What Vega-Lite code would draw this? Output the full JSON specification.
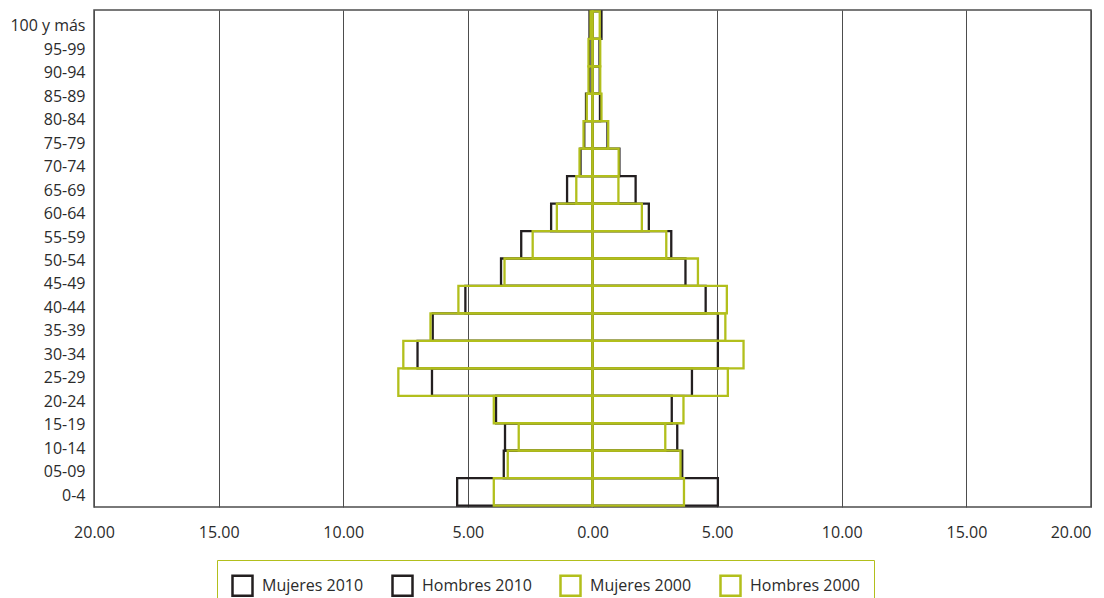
{
  "$schema": "https://vega.github.io/schema/vega-lite/v6.json",
  "autosize": {"type": "none"},
  "width": 997,
  "height": 497,
  "padding": {"left": 94, "top": 10, "right": 13, "bottom": 91},
  "background": "white",
  "config": {
    "font": "Open Sans",
    "view": {"stroke": "#4d4d4d", "strokeWidth": 1.5},
    "axis": {"labelFont": "Open Sans", "labelFontSize": 16, "labelColor": "#2b2b2b"},
    "legend": {"labelFont": "Open Sans", "labelFontSize": 16, "labelColor": "#2b2b2b"}
  },
  "datasets": {
    "edades": [
      {"edad": "100 y más"}, {"edad": "95-99"}, {"edad": "90-94"}, {"edad": "85-89"},
      {"edad": "80-84"}, {"edad": "75-79"}, {"edad": "70-74"}, {"edad": "65-69"},
      {"edad": "60-64"}, {"edad": "55-59"}, {"edad": "50-54"}, {"edad": "45-49"},
      {"edad": "40-44"}, {"edad": "35-39"}, {"edad": "30-34"}, {"edad": "25-29"},
      {"edad": "20-24"}, {"edad": "15-19"}, {"edad": "10-14"}, {"edad": "05-09"},
      {"edad": "0-4"}
    ],
    "poblacion": [
      {"grupo": "85 y más", "serie": "Hombres 2010", "valor": -0.12},
      {"grupo": "80-84", "serie": "Hombres 2010", "valor": -0.12},
      {"grupo": "75-79", "serie": "Hombres 2010", "valor": -0.12},
      {"grupo": "70-74", "serie": "Hombres 2010", "valor": -0.26},
      {"grupo": "65-69", "serie": "Hombres 2010", "valor": -0.33},
      {"grupo": "60-64", "serie": "Hombres 2010", "valor": -0.48},
      {"grupo": "55-59", "serie": "Hombres 2010", "valor": -1.02},
      {"grupo": "50-54", "serie": "Hombres 2010", "valor": -1.66},
      {"grupo": "45-49", "serie": "Hombres 2010", "valor": -2.86},
      {"grupo": "40-44", "serie": "Hombres 2010", "valor": -3.67},
      {"grupo": "35-39", "serie": "Hombres 2010", "valor": -5.10},
      {"grupo": "30-34", "serie": "Hombres 2010", "valor": -6.41},
      {"grupo": "25-29", "serie": "Hombres 2010", "valor": -7.02},
      {"grupo": "20-24", "serie": "Hombres 2010", "valor": -6.44},
      {"grupo": "15-19", "serie": "Hombres 2010", "valor": -3.87},
      {"grupo": "10-14", "serie": "Hombres 2010", "valor": -3.51},
      {"grupo": "05-09", "serie": "Hombres 2010", "valor": -3.56},
      {"grupo": "0-4", "serie": "Hombres 2010", "valor": -5.43},
      {"grupo": "85 y más", "serie": "Mujeres 2010", "valor": 0.36},
      {"grupo": "80-84", "serie": "Mujeres 2010", "valor": 0.28},
      {"grupo": "75-79", "serie": "Mujeres 2010", "valor": 0.29},
      {"grupo": "70-74", "serie": "Mujeres 2010", "valor": 0.30},
      {"grupo": "65-69", "serie": "Mujeres 2010", "valor": 0.60},
      {"grupo": "60-64", "serie": "Mujeres 2010", "valor": 1.08},
      {"grupo": "55-59", "serie": "Mujeres 2010", "valor": 1.73},
      {"grupo": "50-54", "serie": "Mujeres 2010", "valor": 2.26},
      {"grupo": "45-49", "serie": "Mujeres 2010", "valor": 3.16},
      {"grupo": "40-44", "serie": "Mujeres 2010", "valor": 3.73},
      {"grupo": "35-39", "serie": "Mujeres 2010", "valor": 4.54},
      {"grupo": "30-34", "serie": "Mujeres 2010", "valor": 5.03},
      {"grupo": "25-29", "serie": "Mujeres 2010", "valor": 5.03},
      {"grupo": "20-24", "serie": "Mujeres 2010", "valor": 3.99},
      {"grupo": "15-19", "serie": "Mujeres 2010", "valor": 3.18},
      {"grupo": "10-14", "serie": "Mujeres 2010", "valor": 3.40},
      {"grupo": "05-09", "serie": "Mujeres 2010", "valor": 3.60},
      {"grupo": "0-4", "serie": "Mujeres 2010", "valor": 5.03},
      {"grupo": "85 y más", "serie": "Hombres 2000", "valor": -0.08},
      {"grupo": "80-84", "serie": "Hombres 2000", "valor": -0.16},
      {"grupo": "75-79", "serie": "Hombres 2000", "valor": -0.16},
      {"grupo": "70-74", "serie": "Hombres 2000", "valor": -0.23},
      {"grupo": "65-69", "serie": "Hombres 2000", "valor": -0.36},
      {"grupo": "60-64", "serie": "Hombres 2000", "valor": -0.52},
      {"grupo": "55-59", "serie": "Hombres 2000", "valor": -0.65},
      {"grupo": "50-54", "serie": "Hombres 2000", "valor": -1.43},
      {"grupo": "45-49", "serie": "Hombres 2000", "valor": -2.40},
      {"grupo": "40-44", "serie": "Hombres 2000", "valor": -3.53},
      {"grupo": "35-39", "serie": "Hombres 2000", "valor": -5.38},
      {"grupo": "30-34", "serie": "Hombres 2000", "valor": -6.50},
      {"grupo": "25-29", "serie": "Hombres 2000", "valor": -7.59},
      {"grupo": "20-24", "serie": "Hombres 2000", "valor": -7.79},
      {"grupo": "15-19", "serie": "Hombres 2000", "valor": -3.96},
      {"grupo": "10-14", "serie": "Hombres 2000", "valor": -2.96},
      {"grupo": "05-09", "serie": "Hombres 2000", "valor": -3.40},
      {"grupo": "0-4", "serie": "Hombres 2000", "valor": -3.96},
      {"grupo": "85 y más", "serie": "Mujeres 2000", "valor": 0.29},
      {"grupo": "80-84", "serie": "Mujeres 2000", "valor": 0.31},
      {"grupo": "75-79", "serie": "Mujeres 2000", "valor": 0.31},
      {"grupo": "70-74", "serie": "Mujeres 2000", "valor": 0.36},
      {"grupo": "65-69", "serie": "Mujeres 2000", "valor": 0.63},
      {"grupo": "60-64", "serie": "Mujeres 2000", "valor": 1.05},
      {"grupo": "55-59", "serie": "Mujeres 2000", "valor": 1.04},
      {"grupo": "50-54", "serie": "Mujeres 2000", "valor": 1.98},
      {"grupo": "45-49", "serie": "Mujeres 2000", "valor": 2.96},
      {"grupo": "40-44", "serie": "Mujeres 2000", "valor": 4.23},
      {"grupo": "35-39", "serie": "Mujeres 2000", "valor": 5.39},
      {"grupo": "30-34", "serie": "Mujeres 2000", "valor": 5.33},
      {"grupo": "25-29", "serie": "Mujeres 2000", "valor": 6.06},
      {"grupo": "20-24", "serie": "Mujeres 2000", "valor": 5.43},
      {"grupo": "15-19", "serie": "Mujeres 2000", "valor": 3.65},
      {"grupo": "10-14", "serie": "Mujeres 2000", "valor": 2.92},
      {"grupo": "05-09", "serie": "Mujeres 2000", "valor": 3.53},
      {"grupo": "0-4", "serie": "Mujeres 2000", "valor": 3.67}
    ]
  },
  "layer": [
    {
      "data": {"name": "edades"},
      "mark": {"type": "point", "opacity": 0},
      "encoding": {
        "y": {
          "field": "edad",
          "type": "nominal",
          "sort": null,
          "title": null,
          "scale": {"type": "band", "paddingInner": 0, "paddingOuter": 0.09},
          "axis": {"orient": "left", "domain": false, "ticks": false, "labelPadding": 9, "labelOffset": 2.5, "grid": false}
        }
      }
    },
    {
      "data": {"name": "poblacion"},
      "mark": {"type": "bar", "filled": false, "strokeWidth": 2.3},
      "encoding": {
        "y": {
          "field": "grupo",
          "type": "nominal",
          "axis": null,
          "scale": {
            "domain": ["85 y más", "80-84", "75-79", "70-74", "65-69", "60-64", "55-59", "50-54", "45-49", "40-44", "35-39", "30-34", "25-29", "20-24", "15-19", "10-14", "05-09", "0-4"],
            "paddingInner": 0,
            "paddingOuter": 0.05
          }
        },
        "x": {
          "field": "valor",
          "type": "quantitative",
          "stack": null,
          "title": null,
          "scale": {"domain": [-20, 20], "nice": false, "zero": false},
          "axis": {
            "values": [-20, -15, -10, -5, 0, 5, 10, 15, 20],
            "labelExpr": "format(abs(datum.value), '.2f')",
            "labelFlush": false,
            "labelAlign": {"condition": {"test": "datum.value >= 20", "value": "right"}, "value": "center"},
            "domain": false,
            "ticks": false,
            "labelPadding": 17,
            "grid": true,
            "gridColor": "#4d4d4d",
            "gridWidth": 1,
            "gridOpacity": 1
          }
        },
        "stroke": {
          "field": "serie",
          "type": "nominal",
          "title": null,
          "scale": {
            "domain": ["Mujeres 2010", "Hombres 2010", "Mujeres 2000", "Hombres 2000"],
            "range": ["#231f20", "#231f20", "#b2bf1c", "#b2bf1c"]
          },
          "legend": {
            "orient": "none",
            "legendX": 123,
            "legendY": 550,
            "direction": "horizontal",
            "columns": 4,
            "columnPadding": 23,
            "symbolType": "square",
            "symbolSize": 400,
            "symbolStrokeWidth": 2.5,
            "symbolFillColor": "transparent",
            "labelOffset": 8,
            "strokeColor": "#b2bf1c",
            "padding": 14
          }
        }
      }
    }
  ],
  "resolve": {"scale": {"y": "independent"}, "axis": {"y": "independent"}}
}
